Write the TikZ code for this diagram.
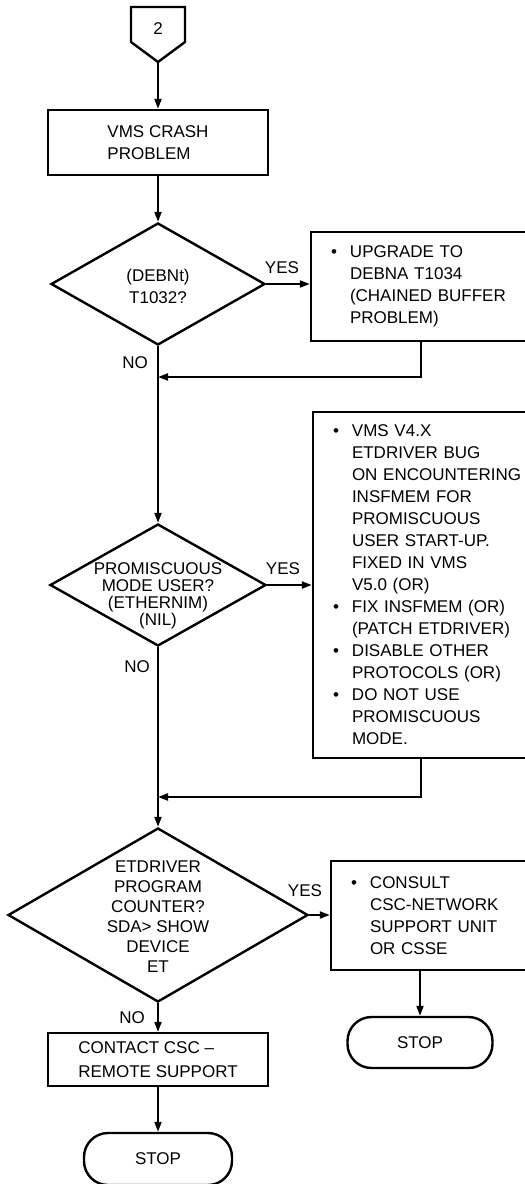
\documentclass[tikz,border=0pt]{standalone}
\usepackage{fontspec}
\setmainfont{Liberation Sans}
\usetikzlibrary{arrows.meta,positioning,shapes.geometric,calc}
\newcommand{\bitem}{\makebox[9.5pt][l]{\textbullet}}
\newcommand{\bcont}{\hspace*{9.5pt}}

\begin{document}
\begin{tikzpicture}[x=0.5pt, y=-0.5pt,
    every node/.style={font=\fontsize{8.5}{11}\selectfont},
    box/.style={draw, line width=1.2pt, minimum width=110pt, minimum height=32.5pt, align=left, inner sep=0pt},
    note/.style={draw, line width=1.2pt, align=left, inner xsep=10pt, inner ysep=0pt},
    decision/.style={draw, diamond, line width=1.2pt, inner sep=0pt},
    terminal/.style={draw, rounded corners=12pt, line width=1.2pt, minimum width=74pt, minimum height=26pt},
    lbl/.style={inner sep=0pt},
    arrow/.style={-{Triangle[length=5pt, width=3.5pt]}, line width=1pt}
]
\useasboundingbox (0,0) rectangle (525,1184);

% Off-page connector
\draw[line width=1.2pt] (131,7) -- (185,7) -- (185,42) -- (158,62) -- (131,42) -- cycle;
\node[lbl] (c2) at (158,29) {2};
\coordinate (c2tip) at (158,62);

% Main column
\node[box] (crash) at (158,142.5) {VMS CRASH\\PROBLEM};
\node[decision, minimum width=107pt, minimum height=61pt] (d1) at (158,284) {};
\node[lbl, align=center] (t1) at (158,286) {(DEBNt)\\T1032?};
\node[decision, minimum width=108pt, minimum height=61pt] (d2) at (158,585) {};
\node[lbl, align=center, font=\fontsize{8.5}{8.6}\selectfont] (t2) at (158,596) {PROMISCUOUS\\MODE USER?\\(ETHERNIM)\\(NIL)};
\node[decision, minimum width=150pt, minimum height=87pt] (d3) at (158,915) {};
\node[lbl, align=center, font=\fontsize{8.5}{10}\selectfont] (t3) at (158,917) {ETDRIVER\\PROGRAM\\COUNTER?\\SDA> SHOW\\DEVICE\\ET};
\node[box, minimum height=26.5pt, font=\fontsize{8.5}{12}\selectfont] (contact) at (158,1059.5) {CONTACT CSC –\\REMOTE SUPPORT};
\node[terminal] (s1) at (158,1159) {STOP};

% Action boxes on the right (cut by the page edge)
\node[note, text width=100pt, minimum height=54.5pt] (b1) at (431,286.5) {\bitem UPGRADE TO\\\bcont DEBNA T1034\\\bcont (CHAINED BUFFER\\\bcont PROBLEM)};
\node[note, text width=100pt, minimum height=173pt] (b2) at (433,585) {\bitem VMS V4.X\\
    \bcont ETDRIVER BUG\\
    \bcont ON ENCOUNTERING\\
    \bcont INSFMEM FOR\\
    \bcont PROMISCUOUS\\
    \bcont USER START-UP.\\
    \bcont FIXED IN VMS\\
    \bcont V5.0 (OR)\\
    \bitem FIX INSFMEM (OR)\\
    \bcont (PATCH ETDRIVER)\\
    \bitem DISABLE OTHER\\
    \bcont PROTOCOLS (OR)\\
    \bitem DO NOT USE\\
    \bcont PROMISCUOUS\\
    \bcont MODE.};
\node[note, text width=95pt, minimum height=54.5pt] (b3) at (446,915.5) {\bitem CONSULT\\\bcont CSC-NETWORK\\\bcont SUPPORT UNIT\\\bcont OR CSSE};
\node[terminal, minimum width=72.5pt, minimum height=25.5pt] (s2) at (420,1042.5) {STOP};

% Branch labels
\node[lbl] (yes1) at (282,268) {YES};
\node[lbl] (yes2) at (283,569) {YES};
\node[lbl] (yes3) at (305,891) {YES};
\node[lbl] (no1) at (135,363) {NO};
\node[lbl] (no2) at (137,667) {NO};
\node[lbl] (no3) at (132,1018) {NO};

% Connectors
\coordinate (m1) at (158,377);
\coordinate (m2) at (158,797);
\draw[arrow] (c2tip) -- (crash.north);
\draw[arrow] (crash.south) -- (d1.north);
\draw[arrow] (d1.east) -- (d1.east -| b1.west);
\draw[arrow] (d1.south) -- (d2.north);
\draw[arrow] ([xshift=-5pt]b1.south) |- (m1);
\draw[arrow] (d2.east) -- (d2.east -| b2.west);
\draw[arrow] (d2.south) -- (d3.north);
\draw[arrow] ([xshift=-6pt]b2.south) |- (m2);
\draw[arrow] (d3.east) -- (d3.east -| b3.west);
\draw[arrow] (d3.south) -- (contact.north);
\draw[arrow] (contact.south) -- (s1.north);
\draw[arrow] (b3.south -| s2.north) -- (s2.north);
\end{tikzpicture}
\end{document}
